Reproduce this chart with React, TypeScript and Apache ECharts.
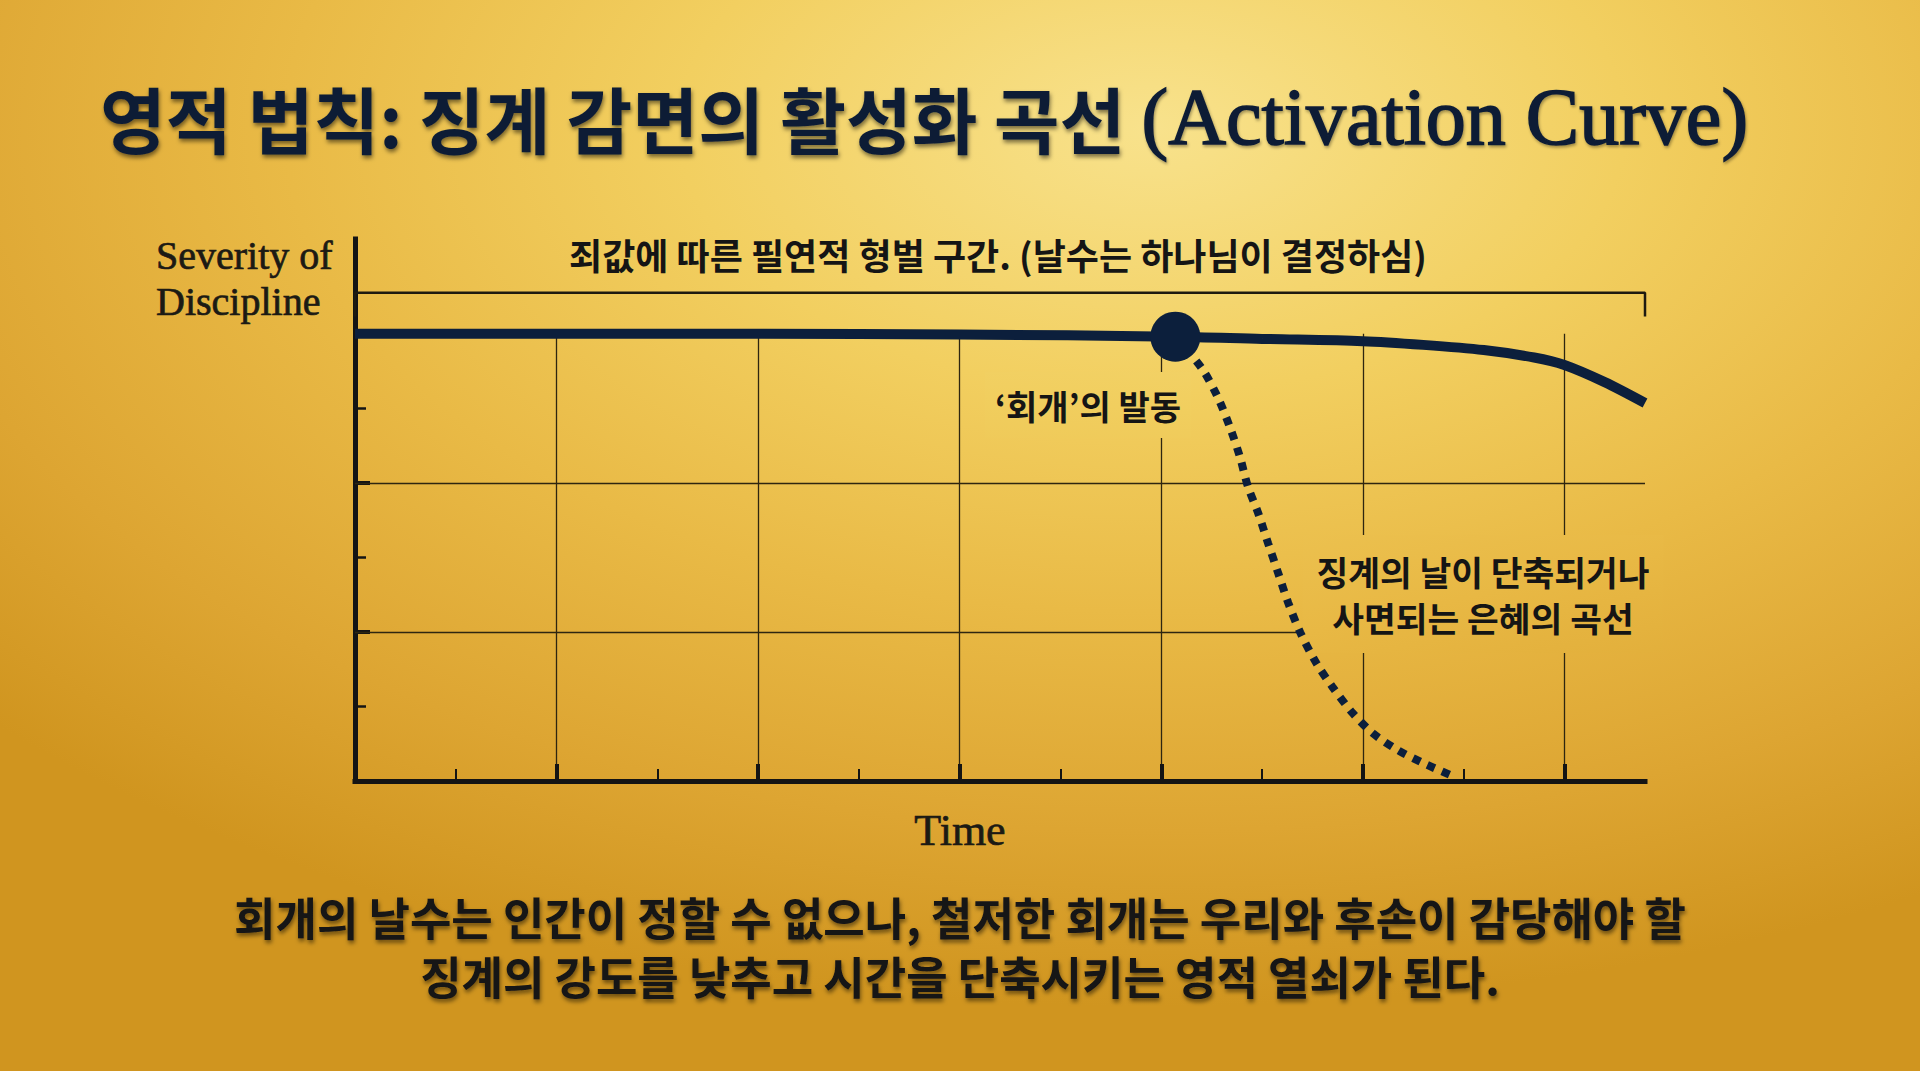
import React, { useEffect, useRef } from 'react';
import * as echarts from 'echarts';

// ---------- data ----------
const X_MAX = 6.4;
const Y_MAX = 7.27;
const TICK_X_MAX = 6;
const TICK_Y_MAX = 6;
const xTickInterval = 1;
const yTickInterval = 2;
const horizontalGridValues = [2, 4];

const mainCurve: [number, number][] = [
  [0, 6.0], [1, 6.0], [2, 6.0], [3, 5.99], [4.07, 5.96], [4.5, 5.93], [5, 5.9],
  [5.3, 5.85], [5.6, 5.78], [5.85, 5.68], [6.0, 5.58], [6.2, 5.35], [6.4, 5.07],
];

const graceCurve: [number, number][] = [
  [4.07, 5.96], [4.2, 5.54], [4.28, 5.15], [4.34, 4.75], [4.39, 4.35], [4.43, 3.95],
  [4.48, 3.6], [4.53, 3.19], [4.58, 2.79], [4.63, 2.39], [4.69, 1.99], [4.77, 1.58],
  [4.85, 1.26], [4.95, 0.91], [5.05, 0.64], [5.17, 0.42], [5.3, 0.24], [5.46, 0.05],
];

const activationPoint: [number, number] = [4.07, 5.96];

const bracketPoints: [number, number][] = [[0, 6.23], [0, 6.55], [6.4, 6.55], [6.4, 6.23]];

const titleKo = '영적 법칙: 징계 감면의 활성화 곡선 ';
const titleEn = '(Activation Curve)';
const yAxisName = 'Severity of\nDiscipline';
const xAxisName = 'Time';
const bracketText = '죄값에 따른 필연적 형벌 구간. (날수는 하나님이 결정하심)';
const activationLabel = '‘회개’의 발동';
const graceLabel = '징계의 날이 단축되거나\n사면되는 은혜의 곡선';
const footerText = '회개의 날수는 인간이 정할 수 없으나, 철저한 회개는 우리와 후손이 감당해야 할\n징계의 강도를 낮추고 시간을 단축시키는 영적 열쇠가 된다.';

// ---------- layout & style ----------
const W = 1920;
const H = 1071;
const PLOT_LEFT = 355;
const PLOT_TOP = 239;
const PLOT_W = 1290;
const PLOT_H = 542;

const NAVY = '#0c1f3c';
const AXIS = '#141414';
const GRID = '#2e2610';
const TEXT = '#151515';
const SERIF_TEXT = '#1c1a14';

const bgStops: [number, string][] = [
  [0, '#f8e28c'], [0.3, '#f2cf60'], [0.55, '#e9ba46'], [0.8, '#dda532'], [1, '#d0951f'],
];
const BG_CX = 0.6;
const BG_CY = 0.12;
const BG_R = 0.82;

function hexToRgb(h: string) {
  const n = parseInt(h.slice(1), 16);
  return [(n >> 16) & 255, (n >> 8) & 255, n & 255];
}
function bgAt(px: number, py: number) {
  const dx = (px / W - BG_CX) / BG_R;
  const dy = (py / H - BG_CY) / BG_R;
  const t = Math.min(1, Math.sqrt(dx * dx + dy * dy));
  for (let i = 1; i < bgStops.length; i++) {
    if (t <= bgStops[i][0]) {
      const [t0, c0] = bgStops[i - 1];
      const [t1, c1] = bgStops[i];
      const f = (t - t0) / (t1 - t0);
      const a = hexToRgb(c0);
      const b = hexToRgb(c1);
      const c = a.map((v, k) => Math.round(v + (b[k] - v) * f));
      return `rgb(${c[0]},${c[1]},${c[2]})`;
    }
  }
  return bgStops[bgStops.length - 1][1];
}
// local linear approximation of the background gradient around a point (global coords)
function localBg(cx: number, cy: number) {
  const gx = (cx - BG_CX * W) / Math.pow(BG_R * W, 2);
  const gy = (cy - BG_CY * H) / Math.pow(BG_R * H, 2);
  const len = Math.sqrt(gx * gx + gy * gy) || 1;
  const nx = gx / len;
  const ny = gy / len;
  const L = 260;
  const x0 = cx - nx * L, y0 = cy - ny * L, x1 = cx + nx * L, y1 = cy + ny * L;
  return new echarts.graphic.LinearGradient(x0, y0, x1, y1, [
    { offset: 0, color: bgAt(x0, y0) },
    { offset: 0.5, color: bgAt(cx, cy) },
    { offset: 1, color: bgAt(x1, y1) },
  ], true);
}

export default function App() {
  const ref = useRef<HTMLDivElement>(null);

  useEffect(() => {
    document.body.style.margin = '0';
    if (!ref.current) return;
    const chart = echarts.init(ref.current, undefined, { renderer: 'svg' });

    const tickGridH = (PLOT_H * TICK_Y_MAX) / Y_MAX;
    const tickGridW = (PLOT_W * TICK_X_MAX) / X_MAX;

    const option: any = {
      animation: false,
      graphic: {
        elements: [
          {
            type: 'rect',
            z: -10,
            silent: true,
            shape: { x: 0, y: 0, width: W, height: H },
            style: {
              fill: new echarts.graphic.RadialGradient(
                BG_CX, BG_CY, BG_R,
                bgStops.map(([offset, color]) => ({ offset, color }))
              ),
            },
          },
          {
            type: 'text',
            z: 10,
            silent: true,
            style: {
              x: 100,
              y: 117,
              text: `{k|${titleKo}}{e|${titleEn}}`,
              align: 'left',
              textAlign: 'left',
              verticalAlign: 'middle',
              textVerticalAlign: 'middle',
              rich: {
                k: {
                  fontFamily: 'Noto Sans CJK KR',
                  fontWeight: 'bold',
                  fontSize: 71.5,
                  fill: '#0e1d36',
                  textShadowColor: 'rgba(0,0,0,0.5)',
                  textShadowBlur: 4,
                  textShadowOffsetX: 1,
                  textShadowOffsetY: 3,
                },
                e: {
                  fontFamily: 'Liberation Serif',
                  fontSize: 80,
                  fill: '#0e1d36',
                  stroke: '#0e1d36',
                  lineWidth: 1.6,
                  textShadowColor: 'rgba(0,0,0,0.35)',
                  textShadowBlur: 3,
                  textShadowOffsetX: 1,
                  textShadowOffsetY: 2,
                },
              },
            },
          },
          {
            type: 'text',
            z: 10,
            silent: true,
            style: {
              x: 156,
              y: 232,
              text: yAxisName,
              align: 'left',
              textAlign: 'left',
              verticalAlign: 'top',
              textVerticalAlign: 'top',
              lineHeight: 46,
              fontFamily: 'Liberation Serif',
              fontSize: 40,
              fill: SERIF_TEXT,
              stroke: SERIF_TEXT,
              lineWidth: 0.7,
            },
          },
          {
            type: 'text',
            z: 10,
            silent: true,
            style: {
              x: 960,
              y: 830,
              text: xAxisName,
              align: 'center',
              textAlign: 'center',
              verticalAlign: 'middle',
              textVerticalAlign: 'middle',
              fontFamily: 'Liberation Serif',
              fontSize: 44,
              fill: SERIF_TEXT,
              stroke: SERIF_TEXT,
              lineWidth: 0.7,
            },
          },
          {
            type: 'text',
            z: 10,
            silent: true,
            style: {
              x: 998,
              y: 254,
              text: bracketText,
              align: 'center',
              textAlign: 'center',
              verticalAlign: 'middle',
              textVerticalAlign: 'middle',
              fontFamily: 'Noto Sans CJK KR',
              fontWeight: 'bold',
              fontSize: 36,
              fill: TEXT,
            },
          },
          {
            type: 'text',
            z: 3,
            silent: true,
            style: {
              x: 1088,
              y: 405,
              text: activationLabel,
              align: 'center',
              textAlign: 'center',
              verticalAlign: 'middle',
              textVerticalAlign: 'middle',
              fontFamily: 'Noto Sans CJK KR',
              fontWeight: 'bold',
              fontSize: 34,
              lineHeight: 36,
              padding: [15, 10],
              backgroundColor: localBg(1088, 405),
              fill: TEXT,
            },
          },
          {
            type: 'text',
            z: 3,
            silent: true,
            style: {
              x: 1483,
              y: 594,
              text: graceLabel,
              align: 'center',
              textAlign: 'center',
              verticalAlign: 'middle',
              textVerticalAlign: 'middle',
              fontFamily: 'Noto Sans CJK KR',
              fontWeight: 'bold',
              fontSize: 34.5,
              lineHeight: 46,
              padding: [13, 14],
              backgroundColor: localBg(1483, 594),
              fill: TEXT,
            },
          },
          {
            type: 'text',
            z: 10,
            silent: true,
            style: {
              x: 960,
              y: 946,
              text: footerText,
              align: 'center',
              textAlign: 'center',
              verticalAlign: 'middle',
              textVerticalAlign: 'middle',
              fontFamily: 'Noto Sans CJK KR',
              fontWeight: 'bold',
              fontSize: 45,
              lineHeight: 59,
              fill: '#131318',
              textShadowColor: 'rgba(0,0,0,0.5)',
              textShadowBlur: 4,
              textShadowOffsetX: 1,
              textShadowOffsetY: 3,
            },
          },
        ],
      },
      grid: [
        { left: PLOT_LEFT, top: PLOT_TOP, width: PLOT_W, height: PLOT_H },
        { left: PLOT_LEFT, top: PLOT_TOP + PLOT_H - tickGridH, width: tickGridW, height: tickGridH },
      ],
      xAxis: [
        {
          type: 'value', gridIndex: 0, min: 0, max: X_MAX,
          axisLine: { show: true, onZero: false, lineStyle: { color: AXIS, width: 5, cap: 'square' } },
          axisTick: { show: false }, axisLabel: { show: false }, splitLine: { show: false },
        },
        {
          type: 'value', gridIndex: 1, min: 0, max: TICK_X_MAX, interval: xTickInterval,
          axisLine: { show: false },
          axisTick: { show: true, inside: true, length: 17, lineStyle: { color: AXIS, width: 4 } },
          minorTick: { show: true, splitNumber: 2, length: 12, lineStyle: { color: AXIS, width: 2 } },
          axisLabel: { show: false },
          splitLine: { show: true, lineStyle: { color: GRID, width: 1.3 } },
          minorSplitLine: { show: false },
        },
      ],
      yAxis: [
        {
          type: 'value', gridIndex: 0, min: 0, max: Y_MAX,
          axisLine: { show: true, onZero: false, lineStyle: { color: AXIS, width: 5, cap: 'square' } },
          axisTick: { show: false }, axisLabel: { show: false }, splitLine: { show: false },
        },
        {
          type: 'value', gridIndex: 1, min: 0, max: TICK_Y_MAX, interval: yTickInterval,
          axisLine: { show: false },
          axisTick: { show: true, inside: true, length: 15, lineStyle: { color: AXIS, width: 4 } },
          minorTick: { show: true, splitNumber: 2, length: 11, lineStyle: { color: AXIS, width: 2.5 } },
          axisLabel: { show: false },
          splitLine: { show: false },
        },
      ],
      series: [
        {
          type: 'line', name: 'bracket', xAxisIndex: 0, yAxisIndex: 0, z: 3, silent: true,
          data: bracketPoints, symbol: 'none',
          lineStyle: { color: '#1e1a10', width: 2.5 },
        },
        {
          type: 'line', name: 'severity', xAxisIndex: 0, yAxisIndex: 0, z: 6, silent: true,
          data: mainCurve, smooth: 0.3, symbol: 'none',
          lineStyle: { color: NAVY, width: 10, cap: 'butt' },
          markLine: {
            silent: true, symbol: 'none', z: 1,
            label: { show: false },
            lineStyle: { color: GRID, width: 1.3, type: 'solid' },
            data: horizontalGridValues.map((v) => ({ yAxis: v })),
          },
        },
        {
          type: 'line', name: 'grace', xAxisIndex: 0, yAxisIndex: 0, z: 5, silent: true,
          data: graceCurve, smooth: 0.3, symbol: 'none',
          lineStyle: { color: NAVY, width: 8, type: [8, 8], cap: 'butt' },
        },
        {
          type: 'scatter', name: 'activation', xAxisIndex: 0, yAxisIndex: 0, z: 7, silent: true,
          data: [activationPoint], symbolSize: 50,
          itemStyle: { color: NAVY, opacity: 1 },
        },
      ],
    };

    chart.setOption(option);
    return () => chart.dispose();
  }, []);

  return <div ref={ref} style={{ width: W, height: H }} />;
}
